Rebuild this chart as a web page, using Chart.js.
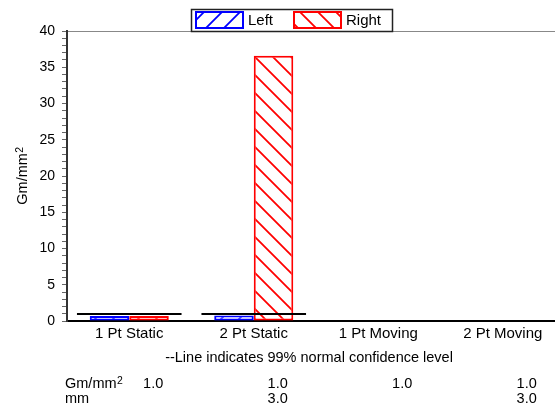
<!DOCTYPE html>
<html>
<head>
<meta charset="utf-8">
<script src="https://cdn.jsdelivr.net/npm/chart.js@4"></script>
<style>
  html, body { margin: 0; padding: 0; background: #fff; overflow: hidden; }
  #c { display: block; }
</style>
</head>
<body>
<canvas id="c" width="565" height="407"></canvas>
<script>
// Pressure readings per test, left and right side (Gm/mm²)
const categories = ['1 Pt Static', '2 Pt Static', '1 Pt Moving', '2 Pt Moving'];
const leftValues = [0.7, 0.75, null, null];
const rightValues = [0.7, 36.6, null, null];
// 99% normal confidence level per test
const confidenceGm = [1.0, 1.0, 1.0, 1.0];
const confidenceMm = [null, 3.0, null, 3.0];
// Labelled y ticks (minor ticks every 1 unit)
const yMajorTicks = [0, 5, 10, 15, 20, 25, 30, 35, 40];
const seriesNames = ['Left', 'Right'];

const FONT = "'Liberation Sans', Arial, Helvetica, sans-serif";
const canvas = document.getElementById('c');
const ctx = canvas.getContext('2d');

function hatch(color, rising) {
  const s = 18;
  const t = document.createElement('canvas');
  t.width = s; t.height = s;
  const g = t.getContext('2d');
  g.fillStyle = '#fff';
  g.fillRect(0, 0, s, s);
  g.strokeStyle = color;
  g.lineWidth = 1.8;
  g.beginPath();
  if (rising) {
    g.moveTo(-3, s + 3); g.lineTo(s + 3, -3);
    g.moveTo(-3, 3); g.lineTo(3, -3);
    g.moveTo(s - 3, s + 3); g.lineTo(s + 3, s - 3);
  } else {
    g.moveTo(-3, -3); g.lineTo(s + 3, s + 3);
    g.moveTo(s - 3, -3); g.lineTo(s + 3, 3);
    g.moveTo(-3, s - 3); g.lineTo(3, s + 3);
  }
  g.stroke();
  return ctx.createPattern(t, 'repeat');
}

const leftFill = hatch('#0000ff', true);
const rightFill = hatch('#ff0000', false);

// Draws "base" followed by a raised small superscript
function drawSuper(g, base, sup, x, y, size, align) {
  g.font = size + 'px ' + FONT;
  const wb = g.measureText(base).width;
  g.font = (size * 0.72) + 'px ' + FONT;
  const ws = g.measureText(sup).width;
  let start = x;
  if (align === 'center') start = x - (wb + ws) / 2;
  g.textAlign = 'left';
  g.textBaseline = 'alphabetic';
  g.font = size + 'px ' + FONT;
  g.fillText(base, start, y);
  g.font = (size * 0.72) + 'px ' + FONT;
  g.fillText(sup, start + wb + 0.5, y - size * 0.3);
}

const confidencePlugin = {
  id: 'confidenceLines',
  afterDatasetsDraw(chart) {
    const xs = chart.scales.x, ys = chart.scales.y;
    const half = (xs.getPixelForValue(1) - xs.getPixelForValue(0)) * 0.42;
    const g = chart.ctx;
    g.save();
    g.strokeStyle = '#000';
    g.lineWidth = 2;
    categories.forEach((c, i) => {
      if (leftValues[i] == null && rightValues[i] == null) return;
      const px = xs.getPixelForValue(i);
      const py = Math.round(ys.getPixelForValue(confidenceGm[i]));
      g.beginPath();
      g.moveTo(px - half, py);
      g.lineTo(px + half, py);
      g.stroke();
    });
    g.restore();
  }
};

const decorPlugin = {
  id: 'decor',
  afterDraw(chart) {
    const g = chart.ctx;
    const xs = chart.scales.x;
    const area = chart.chartArea;
    g.save();
    g.fillStyle = '#000';

    // y axis title
    g.save();
    g.translate(27, (area.top + area.bottom) / 2);
    g.rotate(-Math.PI / 2);
    drawSuper(g, 'Gm/mm', '2', 0, 0, 14.5, 'center');
    g.restore();

    // legend
    const lx = 191, ly = 9, lw = 201, lh = 22;
    g.strokeStyle = '#222';
    g.lineWidth = 1.5;
    g.strokeRect(lx + 0.5, ly + 0.5, lw, lh);
    const swatches = [
      { x: 196, fill: leftFill, color: '#0000ff', name: seriesNames[0] },
      { x: 294, fill: rightFill, color: '#ff0000', name: seriesNames[1] }
    ];
    swatches.forEach(s => {
      g.fillStyle = s.fill;
      g.fillRect(s.x, 12, 47, 16);
      g.strokeStyle = s.color;
      g.lineWidth = 2;
      g.strokeRect(s.x, 12, 47, 16);
      g.fillStyle = '#000';
      g.font = '15px ' + FONT;
      g.textAlign = 'left';
      g.textBaseline = 'alphabetic';
      g.fillText(s.name, s.x + 52, 25);
    });

    // footnote
    g.fillStyle = '#000';
    g.font = '14.5px ' + FONT;
    g.textAlign = 'center';
    g.textBaseline = 'alphabetic';
    g.fillText('--Line indicates 99% normal confidence level',
      (xs.getPixelForValue(1) + xs.getPixelForValue(2)) / 2 - 7, 362);

    // confidence table
    drawSuper(g, 'Gm/mm', '2', 65, 388, 14.5, 'left');
    g.font = '14.5px ' + FONT;
    g.textAlign = 'left';
    g.fillText('mm', 65, 403);
    g.textAlign = 'right';
    categories.forEach((c, i) => {
      const px = xs.getPixelForValue(i) + 34;
      if (confidenceGm[i] != null) g.fillText(confidenceGm[i].toFixed(1), px, 388);
      if (confidenceMm[i] != null) g.fillText(confidenceMm[i].toFixed(1), px, 403);
    });
    g.restore();
  }
};

new Chart(canvas, {
  type: 'bar',
  data: {
    labels: categories,
    datasets: [
      {
        label: seriesNames[0],
        data: leftValues,
        backgroundColor: leftFill,
        borderColor: '#0000ff',
        borderWidth: 2,
        borderSkipped: false
      },
      {
        label: seriesNames[1],
        data: rightValues,
        backgroundColor: rightFill,
        borderColor: '#ff0000',
        borderWidth: 2,
        borderSkipped: false
      }
    ]
  },
  options: {
    responsive: false,
    animation: false,
    devicePixelRatio: 1,
    layout: { padding: { top: 31, left: 0, right: 0, bottom: 0 } },
    datasets: {
      bar: { categoryPercentage: 0.635, barPercentage: 1.0 }
    },
    plugins: {
      legend: { display: false },
      tooltip: { enabled: false }
    },
    scales: {
      x: {
        afterFit(scale) { scale.height = 86; },
        grid: { display: false },
        border: { display: true, color: '#000', width: 2 },
        ticks: {
          color: '#000',
          padding: -4,
          font: { family: FONT, size: 15 }
        }
      },
      y: {
        min: 0,
        max: 40,
        afterFit(scale) { scale.width = 67; },
        border: { display: true, color: '#333', width: 2 },
        grid: {
          drawOnChartArea: true,
          drawTicks: true,
          tickLength: 5,
          tickColor: '#666',
          tickWidth: 1,
          color: (c) => (c.tick && c.tick.value === 40) ? '#888' : 'rgba(0,0,0,0)'
        },
        ticks: {
          stepSize: 1,
          autoSkip: false,
          padding: 7,
          color: '#000',
          font: { family: FONT, size: 14 },
          callback: (v) => yMajorTicks.includes(v) ? String(v) : ''
        }
      }
    }
  },
  plugins: [confidencePlugin, decorPlugin]
});
</script>
</body>
</html>
